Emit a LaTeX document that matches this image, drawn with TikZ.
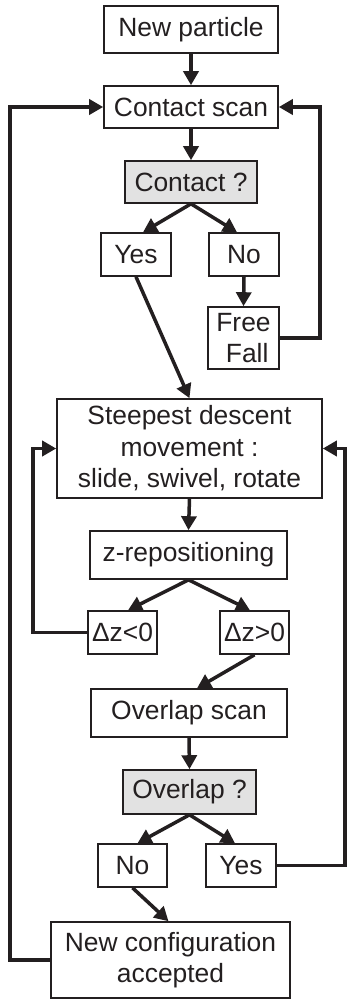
\documentclass[tikz,border=0pt]{standalone}
\usepackage{fontspec}
\setmainfont{Liberation Sans}
\usetikzlibrary{arrows.meta,calc}
\definecolor{ink}{RGB}{35,31,32}
\definecolor{qfill}{RGB}{226,226,226}
\tikzset{
  box/.style={draw=ink, text=ink, line width=1.6pt, inner sep=0pt, align=center,
    font=\fontsize{26.4}{31.5}\selectfont},
  qbox/.style={box, fill=qfill},
  arr/.style={draw=ink, line width=3.5pt, -{Triangle[length=14pt,width=15pt]}},
}
\begin{document}
\begin{tikzpicture}[x=1pt,y=-1pt]
\useasboundingbox (0,0) rectangle (346,1001);
\node[box, minimum width=174pt, minimum height=47pt] (np) at (191,29.5) {New particle};
\node[box, minimum width=174pt, minimum height=42pt] (cs) at (191,107) {Contact scan};
\node[qbox, minimum width=132pt, minimum height=42pt] (cq) at (191,182) {Contact ?};
\node[box, minimum width=70pt, minimum height=43pt] (yes1) at (136,254.5) {Yes};
\node[box, minimum width=70pt, minimum height=43pt] (no1) at (244,254.5) {No};
\node[box, minimum width=71pt, minimum height=62pt] (ff) at (243.5,338) {Free\\\ Fall};
\node[box, minimum width=265pt, minimum height=99pt] (sd) at (189.5,448.5) {Steepest descent\\movement :\\slide, swivel, rotate};
\node[box, minimum width=197pt, minimum height=48pt] (zr) at (188.5,555) {z-repositioning};
\node[box, minimum width=69pt, minimum height=43pt] (zl) at (122.5,632.5) {Δz<0};
\node[box, minimum width=69pt, minimum height=43pt] (zg) at (254.5,632.5) {Δz>0};
\node[box, minimum width=196pt, minimum height=48pt] (os) at (189,713) {Overlap scan};
\node[qbox, minimum width=133pt, minimum height=44pt] (oq) at (189.5,792) {Overlap ?};
\node[box, minimum width=69pt, minimum height=43pt] (no2) at (132.5,865.5) {No};
\node[box, minimum width=70pt, minimum height=43pt] (yes2) at (241,865.5) {Yes};
\node[box, minimum width=239pt, minimum height=76pt] (nc) at (170.5,960) {New configuration\\accepted};

\draw[arr] (np.south) -- (cs.north);
\draw[arr] (cs.south) -- (cq.north);
\draw[arr] (cq.south) -- ($(yes1.north)+(7,0)$);
\draw[arr] (cq.south) -- ($(no1.north)+(-7,0)$);
\draw[arr] (no1.south) -- (ff.north);
\draw[arr] (yes1.south) -- (sd.north);
\draw[arr] (ff.east) -- ++(40,0) |- (cs.east);
\draw[arr] (sd.south) -- (zr.north);
\draw[arr] (zr.south) -- ($(zl.north)+(5.5,0)$);
\draw[arr] (zr.south) -- ($(zg.north)+(-4.5,0)$);
\draw[arr] (zl.west) -- ++(-54,0) |- (sd.west);
\draw[arr] (zg.south) -- ($(os.north)+(8,0)$);
\draw[arr] (os.south) -- (oq.north);
\draw[arr] (oq.south) -- ($(no2.north)+(5,0)$);
\draw[arr] (oq.south) -- ($(yes2.north)+(-6,0)$);
\draw[arr] (yes2.east) -- ++(68,0) |- (sd.east);
\draw[arr] (no2.south) -- ($(nc.north)+(-2,0)$);
\draw[arr] (nc.west) -- ++(-40,0) |- (cs.west);
\end{tikzpicture}
\end{document}
